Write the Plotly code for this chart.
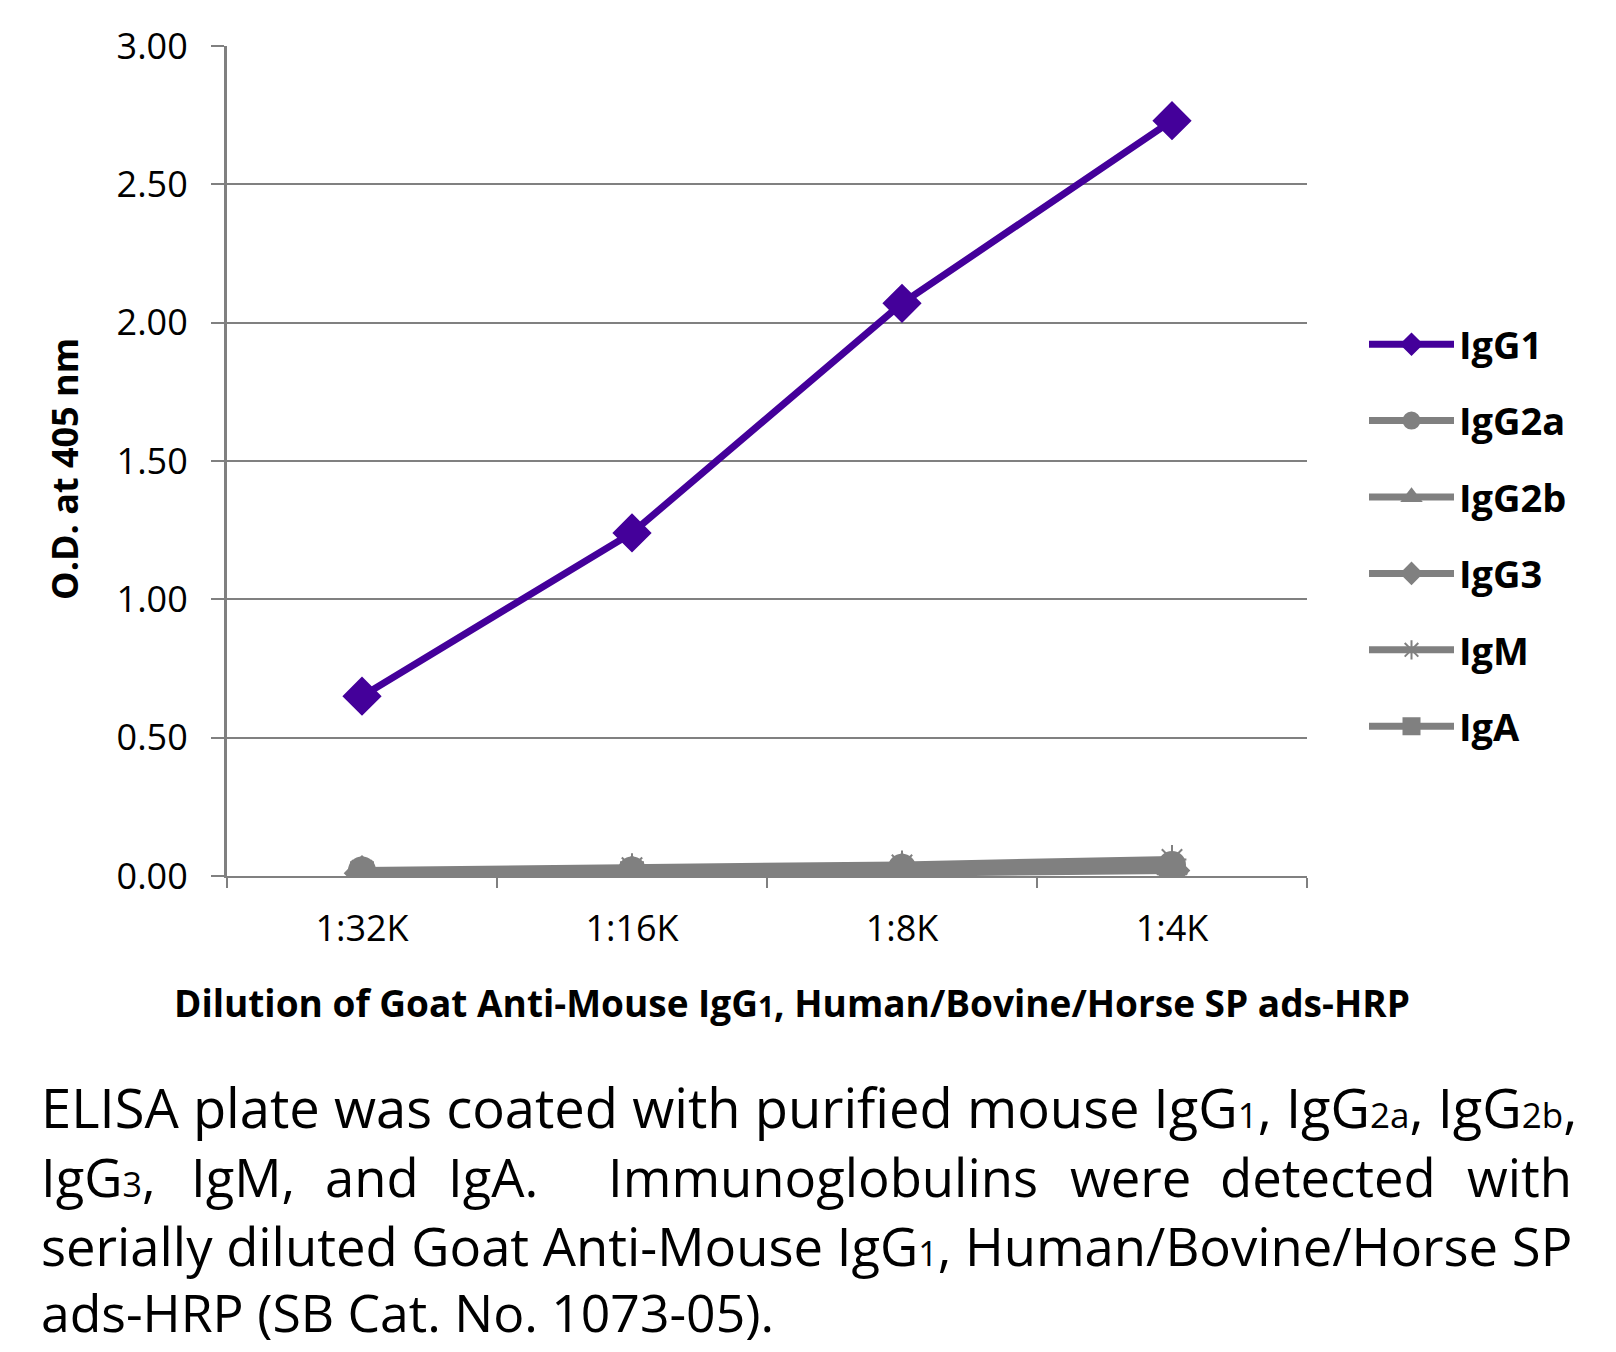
import plotly.graph_objects as go

# ---- data ----
dilutions = ["1:32K", "1:16K", "1:8K", "1:4K"]
igg1 = [0.65, 1.24, 2.07, 2.73]
igg2a = [0.02, 0.02, 0.03, 0.04]
igg2b = [0.01, 0.02, 0.02, 0.03]
igg3 = [0.01, 0.01, 0.02, 0.02]
igm = [0.02, 0.03, 0.04, 0.06]
iga = [0.01, 0.01, 0.01, 0.02]
y_ticks = [0, 0.5, 1.0, 1.5, 2.0, 2.5, 3.0]

OFF = 8  # browser body margin
W, H = 1616 - OFF, 1352 - OFF
L, R, T, B = 227 - OFF, 1307 - OFF, 46 - OFF, 876 - OFF
FONT = "Open Sans"
PURPLE = "#44009a"
GRAY = "#808080"


def px2x(px):
    return (px - OFF - L) / (R - L)


def py2y(py):
    return (B - (py - OFF)) / (B - T)


fig = go.Figure()

series = [
    ("IgG1", igg1, PURPLE, "diamond", 28, 7),
    ("IgG2a", igg2a, GRAY, "circle", 26, 7),
    ("IgG2b", igg2b, GRAY, "triangle-up", 26, 7),
    ("IgG3", igg3, GRAY, "diamond", 26, 7),
    ("IgM", igm, GRAY, "asterisk-open", 24, 7),
    ("IgA", iga, GRAY, "square", 22, 7),
]

for name, vals, col, sym, sz, lw in series:
    fig.add_trace(go.Scatter(
        x=dilutions, y=vals, name=name, mode="lines+markers",
        legendgroup=name,
        line=dict(color=col, width=lw),
        marker=dict(symbol=sym, size=sz, color=col,
                    line=dict(color=col, width=2)),
    ))

fig.update_layout(
    width=W, height=H,
    margin=dict(l=L, r=W - R, t=T, b=H - B, autoexpand=False),
    paper_bgcolor="white", plot_bgcolor="white",
    font=dict(family=FONT, color="black"),
    showlegend=True,
    legend=dict(
        x=px2x(1364), y=py2y(313), xanchor="left", yanchor="top",
        font=dict(family=FONT, size=38, color="black", weight="bold"),
        itemwidth=85, tracegroupgap=24, bgcolor="rgba(0,0,0,0)",
    ),
)

fig.update_xaxes(
    type="category", range=[-0.5, 3.5],
    showline=True, linecolor=GRAY, linewidth=2,
    showgrid=False, zeroline=False,
    ticks="outside", tickson="boundaries", ticklen=10, tickwidth=2, tickcolor=GRAY,
    tickfont=dict(family=FONT, size=36, color="black"),
    ticklabelstandoff=20,
)
fig.update_yaxes(
    range=[0, 3], tickvals=y_ticks, tickformat=".2f",
    showline=True, linecolor=GRAY, linewidth=3,
    showgrid=True, gridcolor=GRAY, gridwidth=2, zeroline=False,
    ticks="outside", ticklen=13, tickwidth=2, tickcolor=GRAY,
    tickfont=dict(family=FONT, size=36, color="black"),
    ticklabelstandoff=16,
)

# axis titles
fig.add_annotation(
    text="Dilution of Goat Anti-Mouse IgG<span style='font-size:28px'>1</span>, Human/Bovine/Horse SP ads-HRP",
    xref="paper", yref="paper", x=px2x(792), y=py2y(1002),
    xanchor="center", yanchor="middle", showarrow=False,
    font=dict(family=FONT, size=37, color="black", weight="bold"),
)
fig.add_annotation(
    text="O.D. at 405 nm", textangle=-90,
    xref="paper", yref="paper", x=px2x(64), y=py2y(469),
    xanchor="center", yanchor="middle", showarrow=False,
    font=dict(family=FONT, size=36, color="black", weight="bold"),
)

# caption
SUB = "<span style='font-size:%dpx'>%s</span>"
line_y = [1107, 1176, 1245, 1312]
cap_sizes = [54.3, 52.6, 52.6, 51.7]


def cf(i):
    return dict(family=FONT, size=cap_sizes[i], color="black")


fig.add_annotation(
    text="ELISA plate was coated with purified mouse IgG" + SUB % (35, "1") + ", IgG"
    + SUB % (35, "2a") + ", IgG" + SUB % (35, "2b") + ",",
    xref="paper", yref="paper", x=px2x(39), y=py2y(line_y[0]),
    xanchor="left", yanchor="middle", showarrow=False, font=cf(0),
)
line2 = [("IgG" + SUB % (34, "3") + ",", 39, "left"), ("IgM,", 189, "left"),
         ("and", 323, "left"), ("IgA.", 446, "left"),
         ("Immunoglobulins", 606, "left"), ("were", 1068, "left"),
         ("detected", 1218, "left"), ("with", 1574, "right")]
for word, xp, anc in line2:
    fig.add_annotation(
        text=word, xref="paper", yref="paper", x=px2x(xp), y=py2y(line_y[1]),
        xanchor=anc, yanchor="middle", showarrow=False, font=cf(1),
    )
fig.add_annotation(
    text="serially diluted Goat Anti-Mouse IgG" + SUB % (34, "1") + ", Human/Bovine/Horse SP",
    xref="paper", yref="paper", x=px2x(39), y=py2y(line_y[2]),
    xanchor="left", yanchor="middle", showarrow=False, font=cf(2),
)
fig.add_annotation(
    text="ads-HRP (SB Cat. No. 1073-05).",
    xref="paper", yref="paper", x=px2x(39), y=py2y(line_y[3]),
    xanchor="left", yanchor="middle", showarrow=False, font=cf(3),
)

fig.write_html("out.html")
